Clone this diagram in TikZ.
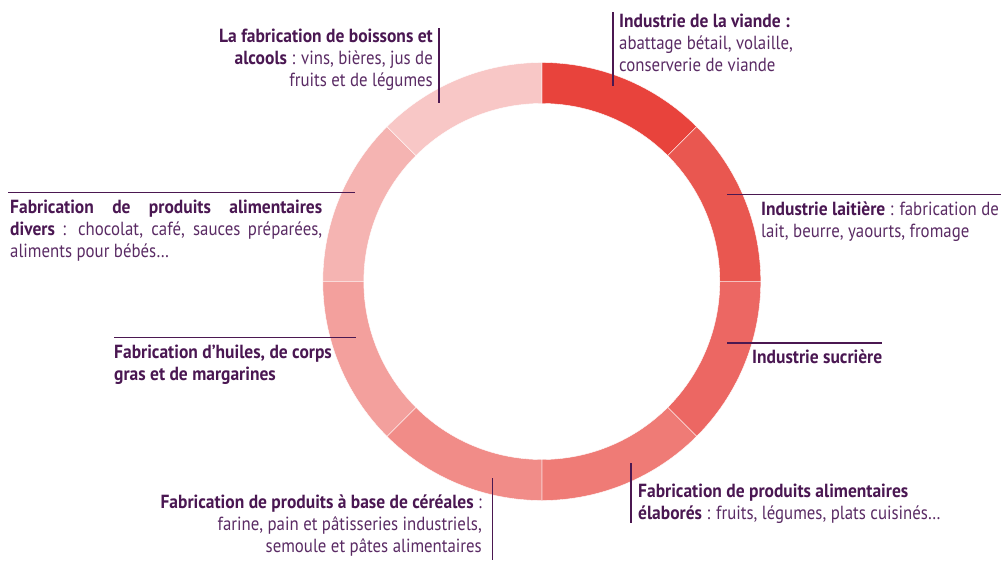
\documentclass[tikz,border=0pt]{standalone}
\usepackage{fontspec}
\setmainfont{PT Sans}[FakeStretch=0.885]
\newfontfamily\bfam{PT Sans}[FakeStretch=0.92]
\definecolor{sA}{HTML}{E8433C}
\definecolor{sB}{HTML}{E95750}
\definecolor{sC}{HTML}{EC6763}
\definecolor{sD}{HTML}{EF7B76}
\definecolor{sE}{HTML}{F18C88}
\definecolor{sF}{HTML}{F3A09D}
\definecolor{sG}{HTML}{F5B4B2}
\definecolor{sH}{HTML}{F8C7C6}
\definecolor{txt}{HTML}{5A2B64}
\definecolor{txtb}{HTML}{4A1752}
\definecolor{lead}{HTML}{4B1851}
\newcommand{\hb}[1]{{\bfam\bfseries\color{txtb}#1}}
\tikzset{
  lab/.style={inner sep=0pt, text=txt, font=\fontsize{19}{22}\selectfont},
  leader/.style={draw=lead, line width=1.8pt},
  seg/.style={draw=white, line width=0.4pt}
}
\begin{document}
\begin{tikzpicture}[x=1pt,y=-1pt]
\useasboundingbox (0,0) rectangle (1001,560);
\coordinate (c) at (541.8,281.5);
\foreach \i/\col in {0/sA,1/sB,2/sC,3/sD,4/sE,5/sF,6/sG,7/sH}{
  \pgfmathsetmacro{\aa}{90-45*\i}
  \pgfmathsetmacro{\ab}{45-45*\i}
  \fill[\col,seg] ([shift={(\aa:219pt)}]c) arc[start angle=\aa, end angle=\ab, radius=219pt]
    -- ([shift={(\ab:178pt)}]c) arc[start angle=\ab, end angle=\aa, radius=178pt] -- cycle;
}
% labels (anchor = baseline of last line)
\node[lab, anchor=base west, align=left] (viande) at (619,71)
  {\hb{Industrie de la viande :}\\abattage bétail, volaille,\\conserverie de viande};
\node[lab, anchor=base west, align=left] (lait) at (761,237)
  {\hb{Industrie laitière} : fabrication de\\lait, beurre, yaourts, fromage};
\node[lab, anchor=base west, align=left] (sucre) at (752,363)
  {\hb{Industrie sucrière}};
\node[lab, anchor=base west, align=left] (elab) at (638,519)
  {\hb{Fabrication de produits alimentaires}\\\hb{élaborés} : fruits, légumes, plats cuisinés…};
\node[lab, anchor=base east, align=right] (cere) at (482,552)
  {\hb{Fabrication de produits à base de céréales} :\\farine, pain et pâtisseries industriels,\\semoule et pâtes alimentaires};
\node[lab, anchor=base west, align=left] (huile) at (114,380)
  {\hb{Fabrication d’huiles, de corps}\\\hb{gras et de margarines}};
\node[lab, anchor=base west, align=left] (divers) at (10,257)
  {\makebox[312pt][s]{\hb{Fabrication} \hb{de} \hb{produits} \hb{alimentaires}}\\
   \makebox[312pt][s]{\hb{divers} : chocolat, café, sauces préparées,}\\
   aliments pour bébés…};
\node[lab, anchor=base east, align=right] (boiss) at (433,86)
  {\hb{La fabrication de boissons et}\\\hb{alcools} : vins, bières, jus de\\fruits et de légumes};
% leader lines
\coordinate (v1) at (613,12);   \coordinate (v2) at (613,86);
\coordinate (l1) at (727,194.5); \coordinate (l2) at (1001,194.5);
\coordinate (s1) at (727,343);  \coordinate (s2) at (882,343);
\coordinate (e1) at (631,463);  \coordinate (e2) at (631,523);
\coordinate (c1) at (492.5,478); \coordinate (c2) at (492.5,560);
\coordinate (h1) at (114,337.5); \coordinate (h2) at (356,337.5);
\coordinate (d1) at (8,192.5);  \coordinate (d2) at (355,192.5);
\coordinate (b1) at (439,28);   \coordinate (b2) at (439,103);
\draw[leader] (v1) -- (v2);
\draw[leader] (l1) -- (l2);
\draw[leader] (s1) -- (s2);
\draw[leader] (e1) -- (e2);
\draw[leader] (c1) -- (c2);
\draw[leader] (h1) -- (h2);
\draw[leader] (d1) -- (d2);
\draw[leader] (b1) -- (b2);
\end{tikzpicture}
\end{document}
